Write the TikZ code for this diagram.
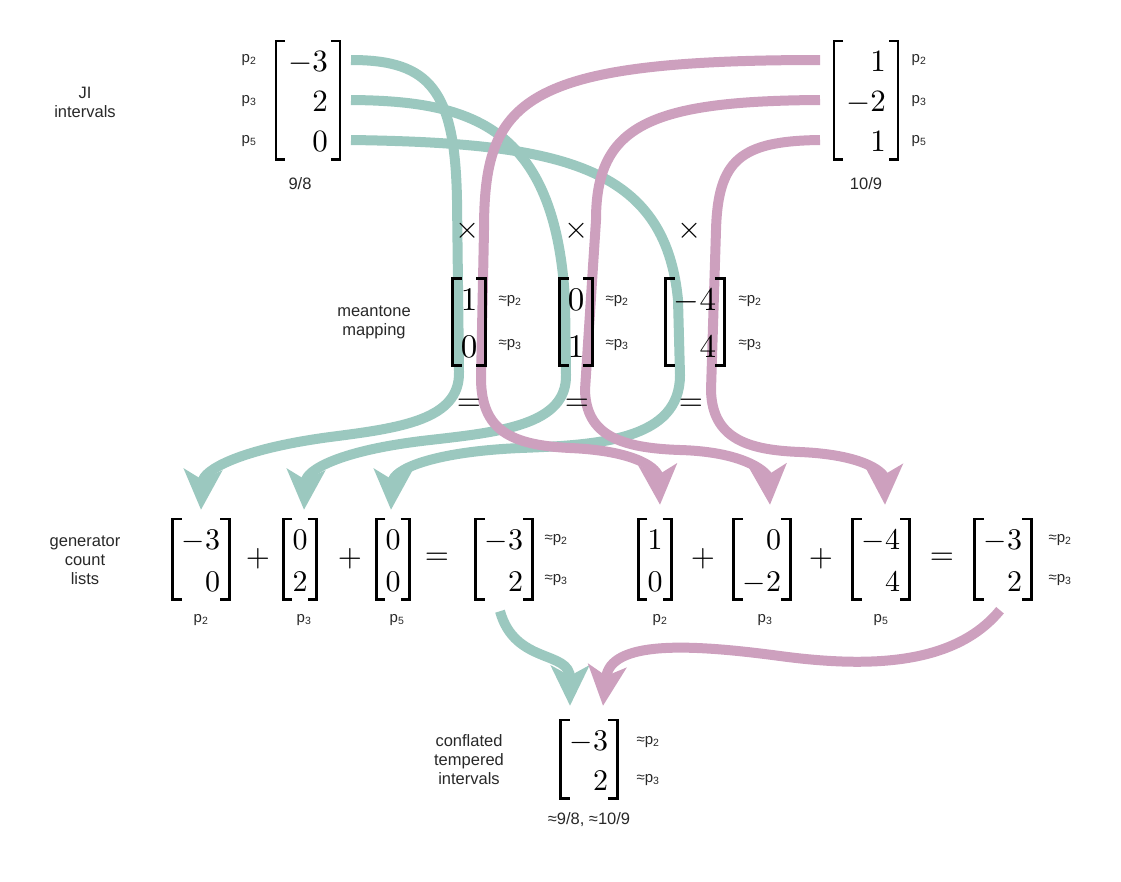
\documentclass[tikz,border=0pt]{standalone}
\usepackage{amsmath}
\usepackage[no-math]{fontspec}
\newfontfamily\lblfont{Liberation Sans}
\usetikzlibrary{arrows.meta,matrix,backgrounds}

% math at any size, drawn from the 10pt designs
\DeclareFontShape{OT1}{cmr}{m}{n}{<-> cmr10}{}
\DeclareFontShape{OML}{cmm}{m}{it}{<-> cmmi10}{}
\DeclareFontShape{OMS}{cmsy}{m}{n}{<-> cmsy10}{}
\DeclareFontShape{OMX}{cmex}{m}{n}{<-> cmex10}{}

\definecolor{jiteal}{RGB}{155,200,191}
\definecolor{jipink}{RGB}{205,160,190}
\definecolor{lbltext}{RGB}{40,40,40}

\tikzset{
    %Define style for bracketed vectors
    vec/.style={
           matrix of math nodes,
           inner xsep=12pt, inner ysep=8pt,
           row sep=18pt,
           font=\fontsize{31}{37}\selectfont,
           nodes={anchor=east, inner sep=0pt,
                  text height=22pt, text depth=0pt,
                  font=\fontsize{31}{37}\selectfont}},
    genvec/.style={
           vec,
           inner xsep=9pt,
           row sep=20pt,
           font=\fontsize{30}{36}\selectfont,
           nodes={font=\fontsize{30}{36}\selectfont}},
    mapvec/.style={
           vec,
           inner xsep=8pt,
           row sep=23pt,
           font=\fontsize{33}{40}\selectfont,
           nodes={text height=24pt, font=\fontsize{33}{40}\selectfont}},
    brk/.style={
           line width=2.6pt},
    %Define style for texts
    lbl/.style={
           font=\lblfont\fontsize{16.5}{19}\selectfont,
           text=lbltext,
           align=center},
    plbl/.style={
           font=\lblfont\fontsize{15}{17}\selectfont,
           text=lbltext},
    op/.style={
           font=\fontsize{31}{37}\selectfont},
    % Define arrow style
    tealflow/.style={
           draw=jiteal,
           line width=10pt,
           -{Stealth[length=40pt,width=38pt,inset=10pt]}},
    pinkflow/.style={
           draw=jipink,
           line width=10pt,
           -{Stealth[length=40pt,width=38pt,inset=10pt]}}
}

% square brackets round a matrix
\newcommand\vecbrackets[1]{%
    \draw[brk] ([xshift=9pt]#1.north west) -- (#1.north west)
        -- (#1.south west) -- ([xshift=9pt]#1.south west);
    \draw[brk] ([xshift=-9pt]#1.north east) -- (#1.north east)
        -- (#1.south east) -- ([xshift=-9pt]#1.south east);}

\begin{document}
\begin{tikzpicture}[x=1pt, y=-1pt]
    \useasboundingbox (0,0) rectangle (1121,881);

    % JI INTERVALS
    \node[lbl] (jiLbl) at (85,102) {JI\\intervals};
    \matrix (jiA) [vec] at (308,100) {-3\\ 2\\ 0\\};
    \node[plbl] (pA2) at (249,60) {p\textsubscript{2}};
    \node[plbl] (pA3) at (249,101) {p\textsubscript{3}};
    \node[plbl] (pA5) at (249,141) {p\textsubscript{5}};
    \node[lbl] (ratioA) at (300,184) {9/8};

    \matrix (jiB) [vec] at (866,100) {1\\ -2\\ 1\\};
    \node[plbl] (pB2) at (919,60) {p\textsubscript{2}};
    \node[plbl] (pB3) at (919,101) {p\textsubscript{3}};
    \node[plbl] (pB5) at (919,141) {p\textsubscript{5}};
    \node[lbl] (ratioB) at (866,184) {10/9};

    % MAPPING
    \node[op] (timesA) at (468,231) {$\times$};
    \node[op] (timesB) at (577,231) {$\times$};
    \node[op] (timesC) at (690,231) {$\times$};

    \node[lbl] (mapLbl) at (374,322) {meantone\\mapping};
    \matrix (mapA) [mapvec] at (469,322) {1\\ 0\\};
    \matrix (mapB) [mapvec] at (576,322) {0\\ 1\\};
    \matrix (mapC) [mapvec] at (695,322) {-4\\ 4\\};
    \node[plbl] (mA2) at (510,301) {≈p\textsubscript{2}};
    \node[plbl] (mA3) at (510,345) {≈p\textsubscript{3}};
    \node[plbl] (mB2) at (617,301) {≈p\textsubscript{2}};
    \node[plbl] (mB3) at (617,345) {≈p\textsubscript{3}};
    \node[plbl] (mC2) at (750,301) {≈p\textsubscript{2}};
    \node[plbl] (mC3) at (750,345) {≈p\textsubscript{3}};

    \node[op] (eqA) at (469,405) {$=$};
    \node[op] (eqB) at (577,405) {$=$};
    \node[op] (eqC) at (691,405) {$=$};

    % GENERATOR COUNT LISTS
    \node[lbl] (genLbl) at (85,560) {generator\\count\\lists};
    \matrix (genA) [genvec] at (201,559) {-3\\ 0\\};
    \node[op] (plusA) at (258,559) {$+$};
    \matrix (genB) [genvec] at (300,559) {0\\ 2\\};
    \node[op] (plusB) at (350,559) {$+$};
    \matrix (genC) [genvec] at (393,559) {0\\ 0\\};
    \node[op] (sumA) at (437,559) {$=$};
    \matrix (genD) [genvec] at (504,559) {-3\\ 2\\};
    \node[plbl] (gD2) at (556,540) {≈p\textsubscript{2}};
    \node[plbl] (gD3) at (556,580) {≈p\textsubscript{3}};
    \node[plbl] (uA) at (201,620) {p\textsubscript{2}};
    \node[plbl] (uB) at (304,620) {p\textsubscript{3}};
    \node[plbl] (uC) at (397,620) {p\textsubscript{5}};

    \matrix (genE) [genvec] at (655,559) {1\\ 0\\};
    \node[op] (plusC) at (703,559) {$+$};
    \matrix (genF) [genvec] at (762,559) {0\\ -2\\};
    \node[op] (plusD) at (821,559) {$+$};
    \matrix (genG) [genvec] at (881,559) {-4\\ 4\\};
    \node[op] (sumB) at (942,559) {$=$};
    \matrix (genH) [genvec] at (1003,559) {-3\\ 2\\};
    \node[plbl] (gH2) at (1060,540) {≈p\textsubscript{2}};
    \node[plbl] (gH3) at (1060,580) {≈p\textsubscript{3}};
    \node[plbl] (uE) at (660,620) {p\textsubscript{2}};
    \node[plbl] (uF) at (765,620) {p\textsubscript{3}};
    \node[plbl] (uG) at (881,620) {p\textsubscript{5}};

    % CONFLATED RESULT
    \node[lbl] (resLbl) at (469,760) {conflated\\tempered\\intervals};
    \matrix (res) [genvec, row sep=18pt] at (589,759) {-3\\ 2\\};
    \node[plbl] (r2) at (648,742) {≈p\textsubscript{2}};
    \node[plbl] (r3) at (648,780) {≈p\textsubscript{3}};
    \node[lbl] (resRatio) at (589,820) {≈9/8, ≈10/9};

    \foreach \m in {jiA,jiB,mapA,mapB,mapC,genA,genB,genC,genD,genE,genF,genG,genH,res}
        {\vecbrackets{\m}}

    % FLOWS
    \begin{scope}[on background layer]
    \draw[tealflow] ([xshift=11pt]jiA.east |- jiA-1-1)
        .. controls (430,60) and (455,90) .. (457,200) -- (459,372)
        .. controls (460,420) and (400,428) .. (330,437)
        .. controls (240,449) and (203,470) .. ([yshift=9pt]genA.north);
    \draw[tealflow] ([xshift=11pt]jiA.east |- jiA-2-1)
        .. controls (470,101) and (555,125) .. (565,300) -- (566,375)
        .. controls (567,425) and (500,432) .. (430,440)
        .. controls (340,450) and (306,470) .. ([xshift=4pt,yshift=9pt]genB.north);
    \draw[tealflow] ([xshift=11pt]jiA.east |- jiA-3-1)
        .. controls (560,143) and (665,165) .. (678,300) -- (680,375)
        .. controls (680,440) and (600,445) .. (520,448)
        .. controls (430,452) and (393,470) .. ([xshift=-2pt,yshift=9pt]genC.north);

    \draw[pinkflow] ([xshift=-14pt]jiB.west |- jiB-1-1)
        .. controls (520,60) and (484,100) .. (484,230) -- (481,380)
        .. controls (482,430) and (510,445) .. (570,448)
        .. controls (640,451) and (658,470) .. ([xshift=5pt,yshift=14pt]genE.north);
    \draw[pinkflow] ([xshift=-14pt]jiB.west |- jiB-2-1)
        .. controls (650,101) and (596,125) .. (596,220) -- (585,390)
        .. controls (586,435) and (620,448) .. (680,450)
        .. controls (750,452) and (768,475) .. ([xshift=8pt,yshift=14pt]genF.north);
    \draw[pinkflow] ([xshift=-14pt]jiB.west |- jiB-3-1)
        .. controls (740,141) and (718,160) .. (716,230) -- (711,390)
        .. controls (712,440) and (750,450) .. (800,452)
        .. controls (870,455) and (884,475) .. ([xshift=4pt,yshift=14pt]genG.north);

    \draw[tealflow] ([xshift=-4pt,yshift=-12pt]genD.south)
        .. controls (515,665) and (570,650) .. ([xshift=-19pt,yshift=14pt]res.north);
    \draw[pinkflow] ([xshift=-3pt,yshift=-11pt]genH.south)
        .. controls (955,665) and (870,668) .. (780,656)
        .. controls (690,644) and (610,640) .. ([xshift=14pt,yshift=14pt]res.north);
    \end{scope}
\end{tikzpicture}
\end{document}
